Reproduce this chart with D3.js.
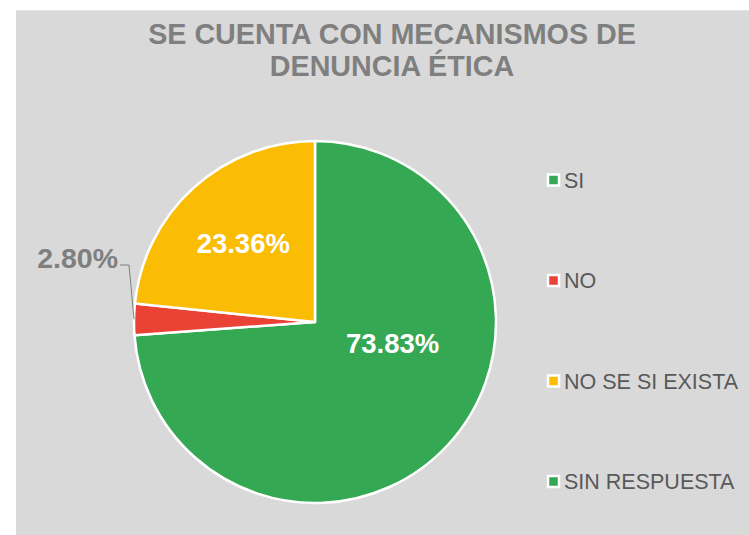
<!DOCTYPE html>
<html>
<head>
<meta charset="utf-8">
<script src="https://cdn.jsdelivr.net/npm/d3@7"></script>
<style>
  body { margin: 0; background: #ffffff; }
  svg { display: block; font-family: "Liberation Sans", Arial, sans-serif; }
</style>
</head>
<body>
<div id="chart"></div>
<script>
// Data
const categories = ["SI", "NO", "NO SE SI EXISTA", "SIN RESPUESTA"];
const values = [73.83, 2.80, 23.36, 0];
const colors = ["#34a853", "#ea4335", "#fbbc04", "#34a853"];
const titleLines = ["SE CUENTA CON MECANISMOS DE", "DENUNCIA ÉTICA"];

const width = 749;
const height = 535;

const svg = d3.select("#chart")
    .append("svg")
    .attr("width", width)
    .attr("height", height);

// Chart background
svg.append("rect")
    .attr("x", 16)
    .attr("y", 10)
    .attr("width", width - 16)
    .attr("height", height - 10)
    .attr("fill", "#d9d9d9");

svg.append("line")
    .attr("x1", 16).attr("x2", width)
    .attr("y1", 10.5).attr("y2", 10.5)
    .attr("stroke", "#e4e4e4");

// Title
svg.append("text")
    .attr("x", 392)
    .attr("y", 44)
    .attr("text-anchor", "middle")
    .style("font-size", "28.7px")
    .style("font-weight", "bold")
    .attr("fill", "#7f7f7f")
    .selectAll("tspan")
    .data(titleLines)
    .enter()
    .append("tspan")
    .attr("x", 392)
    .attr("dy", (d, i) => i === 0 ? 0 : 32)
    .text(d => d);

// Pie
const cx = 315, cy = 322, radius = 181;

const pie = d3.pie()
    .sort(null)
    .value(d => d.value);

const arcs = pie(categories.map((c, i) => ({ name: c, value: values[i], color: colors[i] })));

const arc = d3.arc()
    .innerRadius(0)
    .outerRadius(radius);

const g = svg.append("g").attr("transform", `translate(${cx},${cy})`);

g.selectAll("path")
    .data(arcs.filter(d => d.data.value > 0))
    .enter()
    .append("path")
    .attr("d", arc)
    .attr("fill", d => d.data.color)
    .attr("stroke", "#ffffff")
    .attr("stroke-width", 2.5)
    .attr("stroke-linejoin", "round");

// Data labels (placement: angle in degrees from top, distance as fraction of radius)
const labelPlacement = [
    { angle: 105.4, dist: 0.445 },
    null,
    { angle: 317.8, dist: 0.59 },
    null
];

arcs.forEach((d, i) => {
    const p = labelPlacement[i];
    if (!p) return;
    const a = p.angle * Math.PI / 180;
    g.append("text")
        .attr("x", Math.sin(a) * radius * p.dist)
        .attr("y", -Math.cos(a) * radius * p.dist)
        .attr("dy", "0.36em")
        .attr("text-anchor", "middle")
        .style("font-size", "27.5px")
        .style("font-weight", "bold")
        .attr("fill", "#ffffff")
        .text(d3.format(".2f")(d.data.value) + "%");
});

// Outside label with leader line for the small slice
const small = arcs[1];
const mid = (small.startAngle + small.endAngle) / 2;
const edge = [Math.sin(mid) * radius, -Math.cos(mid) * radius];
const elbow = [edge[0] - 5, -57];
const tip = [elbow[0] - 9, elbow[1]];

g.append("polyline")
    .attr("points", [edge, elbow, tip].map(p => p.join(",")).join(" "))
    .attr("fill", "none")
    .attr("stroke", "#7f7f7f")
    .attr("stroke-width", 1);

g.append("text")
    .attr("x", tip[0] - 2)
    .attr("y", tip[1] - 7.5)
    .attr("dy", "0.36em")
    .attr("text-anchor", "end")
    .style("font-size", "28.5px")
    .style("font-weight", "bold")
    .attr("fill", "#7f7f7f")
    .text(d3.format(".2f")(small.data.value) + "%");

// Legend
const legendY = d3.scalePoint()
    .domain(categories)
    .range([180, 481.5]);

const legend = svg.append("g");

const item = legend.selectAll("g")
    .data(categories)
    .enter()
    .append("g")
    .attr("transform", d => `translate(553.5,${legendY(d)})`);

item.append("rect")
    .attr("x", -5.5)
    .attr("y", -5.5)
    .attr("width", 11)
    .attr("height", 11)
    .attr("fill", (d, i) => colors[i])
    .attr("stroke", "#ffffff")
    .attr("stroke-width", 2.5);

item.append("text")
    .attr("x", 10.5)
    .attr("dy", "0.36em")
    .style("font-size", "21.5px")
    .attr("fill", "#595959")
    .text(d => d);
</script>
</body>
</html>
